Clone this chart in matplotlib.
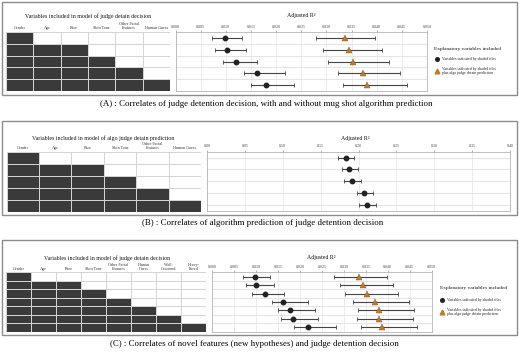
import numpy as np
import matplotlib
matplotlib.use("Agg")
import matplotlib.pyplot as plt
from matplotlib.patches import Rectangle
from matplotlib.colors import ListedColormap

plt.rcParams['font.family'] = ['Liberation Serif', 'DejaVu Serif']

# ---------------- data ----------------
# Panel A
a_cols = ["Gender", "Age", "Race", "Skin Tone", "Other Facial\nFeatures", "Human Guess"]
a_shaded = [1, 3, 4, 5, 6]
a_base = [0.0099, 0.0103, 0.0120, 0.0163, 0.0180]
a_base_lo = [0.0072, 0.0079, 0.0094, 0.0136, 0.0150]
a_base_hi = [0.0132, 0.0141, 0.0163, 0.0217, 0.0235]
a_algo = [0.0336, 0.0344, 0.0352, 0.0372, 0.0381]
a_algo_lo = [0.0279, 0.0294, 0.0303, 0.0323, 0.0333]
a_algo_hi = [0.0397, 0.0411, 0.0425, 0.0447, 0.0461]
a_ticks = [0.000, 0.005, 0.010, 0.015, 0.020, 0.025, 0.030, 0.035, 0.040, 0.045, 0.050]

# Panel B
b_cols = ["Gender", "Age", "Race", "Skin Tone", "Other Facial\nFeatures", "Human Guess"]
b_shaded = [1, 3, 4, 5, 6]
b_base = [0.1835, 0.1875, 0.1919, 0.2078, 0.2109]
b_base_lo = [0.1729, 0.1782, 0.1813, 0.1976, 0.2007]
b_base_hi = [0.1945, 0.1994, 0.2034, 0.2188, 0.2228]
b_ticks = [0.00, 0.05, 0.10, 0.15, 0.20, 0.25, 0.30, 0.35, 0.40]

# Panel C
c_cols = ["Gender", "Age", "Race", "Skin Tone", "Other Facial\nFeatures", "Human\nGuess",
          "Well-\nGroomed", "Heavy-\nFaced"]
c_shaded = [1, 3, 4, 5, 6, 7, 8]
c_base = [0.0097, 0.0100, 0.0119, 0.0162, 0.0178, 0.0183, 0.0219]
c_base_lo = [0.0069, 0.0077, 0.0091, 0.0135, 0.0150, 0.0156, 0.0186]
c_base_hi = [0.0131, 0.0141, 0.0163, 0.0217, 0.0235, 0.0240, 0.0281]
c_algo = [0.0334, 0.0343, 0.0352, 0.0371, 0.0381, 0.0380, 0.0387]
c_algo_lo = [0.0278, 0.0292, 0.0302, 0.0321, 0.0333, 0.0330, 0.0340]
c_algo_hi = [0.0397, 0.0412, 0.0424, 0.0448, 0.0460, 0.0458, 0.0467]
c_ticks = a_ticks

captions = ["(A) : Correlates of judge detention decision, with and without mug shot algorithm prediction",
            "(B) : Correlates of algorithm prediction of judge detention decision",
            "(C) : Correlates of novel features (new hypotheses) and judge detention decision"]
tile_titles = ["Variables included in model of judge detain decision",
               "Variables included in model of algo judge detain prediction",
               "Variables included in model of judge detain decision"]
legend_title = "Explanatory variables included"
legend_labels = ["Variables indicated by shaded tiles",
                 "Variables indicated by shaded tiles\nplus algo judge detain prediction"]

DARK = '#3a3a3a'
ORANGE = '#c07a2e'
W, H = 520, 353

fig = plt.figure(figsize=(W / 100, H / 100), dpi=100)
ov = fig.add_axes([0, 0, 1, 1])
ov.set_xlim(0, W)
ov.set_ylim(H, 0)
ov.axis('off')
ov.set_zorder(0)


def px_axes(x0, y0, x1, y1):
    ax = fig.add_axes([x0 / W, 1 - y1 / H, (x1 - x0) / W, (y1 - y0) / H])
    ax.set_zorder(2)
    return ax


def draw_tiles(ax, cols, shaded, title, tx, ty):
    n, m = len(shaded), len(cols)
    mat = np.array([[1 if j < s else 0 for j in range(m)] for s in shaded])
    ax.pcolormesh(np.arange(m + 1), np.arange(n + 1), mat,
                  cmap=ListedColormap(['white', DARK]), vmin=0, vmax=1,
                  edgecolors='#d4d4d4', linewidth=0.6)
    ax.set_xlim(0, m)
    ax.set_ylim(n, 0)
    ax.set_xticks(np.arange(m) + 0.5)
    ax.set_xticklabels(cols, fontsize=3.0, color='#333333', linespacing=1.0)
    ax.xaxis.tick_top()
    ax.tick_params(axis='x', length=0, pad=1.2)
    ax.set_yticks([])
    for s in ax.spines.values():
        s.set_visible(False)
    ov.text(tx, ty, title, ha='center', va='center', fontsize=4.2, color='#111111')


def draw_r2(ax, ticks, fmt, base, lo, hi, algo=None, alo=None, ahi=None,
            centers=False, tx=None, ty=None):
    n = len(base)
    y = np.arange(n) + 0.5
    ax.set_xlim(ticks[0], ticks[-1])
    ax.set_ylim(n, 0)
    ax.set_xticks(ticks)
    ax.set_xticklabels([fmt.format(t) for t in ticks], fontsize=2.9, color='#444444')
    ax.xaxis.tick_top()
    ax.tick_params(axis='x', length=1.5, width=0.4, pad=1.0, color='#777777')
    ax.set_yticks([])
    ax.grid(axis='x', color='#e4e4e4', lw=0.5)
    ax.set_axisbelow(True)
    hl = y if centers else np.arange(1, n)
    for h in hl:
        ax.axhline(h, color='#e4e4e4', lw=0.8, zorder=0)
    for s in ax.spines.values():
        s.set_color('#b5b5b5')
        s.set_linewidth(0.6)
    base = np.array(base)
    ax.errorbar(base, y, xerr=[base - np.array(lo), np.array(hi) - base], fmt='o',
                color='#222222', ecolor='#444444', elinewidth=0.8, capsize=1.2,
                capthick=0.6, markersize=3.2, zorder=3)
    if algo is not None:
        algo = np.array(algo)
        ax.errorbar(algo, y, xerr=[algo - np.array(alo), np.array(ahi) - algo], fmt='none',
                    ecolor='#444444', elinewidth=0.8, capsize=1.2, capthick=0.6, zorder=3)
        ax.plot(algo, y, linestyle='none', marker='^', color=ORANGE, markersize=3.8,
                markeredgecolor='#8a5520', markeredgewidth=0.3, zorder=4)
    ov.text(tx, ty, 'Adjusted R²', ha='center', va='center', fontsize=4.2, color='#111111')


def draw_legend(x, y, dy1, dy2):
    ov.text(x, y, legend_title, ha='left', va='center', fontsize=3.9, color='#111111')
    ov.plot([x + 2], [y + dy1], marker='o', color='#222222', markersize=2.6)
    ov.text(x + 7, y + dy1, legend_labels[0], ha='left', va='center', fontsize=2.8, color='#222222')
    ov.plot([x + 2], [y + dy2], marker='^', color=ORANGE, markersize=3.4)
    ov.text(x + 7, y + dy2, legend_labels[1], ha='left', va='center', fontsize=2.8,
            color='#222222', linespacing=1.1)


# panel boxes and captions
for (y0, y1) in [(2, 95), (120.5, 215), (240, 335)]:
    ov.add_patch(Rectangle((2, y0), 515, y1 - y0, fill=False, edgecolor='#8c8c8c', lw=1.0))
for cap, cx, cy in zip(captions, [266, 263, 254], [104, 223, 344]):
    ov.text(cx, cy, cap, ha='center', va='center', fontsize=6.4, color='#000000')

# Panel A
axA_t = px_axes(6, 32, 170, 91)
draw_tiles(axA_t, a_cols, a_shaded, tile_titles[0], 88, 16)
axA = px_axes(175.5, 32, 427, 91)
draw_r2(axA, a_ticks, '{:.3f}', a_base, a_base_lo, a_base_hi, a_algo, a_algo_lo, a_algo_hi,
        centers=False, tx=301, ty=15.7)
draw_legend(434.5, 49, 10, 22)

# Panel B
axB_t = px_axes(6.7, 151.7, 201, 211.7)
draw_tiles(axB_t, b_cols, b_shaded, tile_titles[1], 103, 138.3)
axB = px_axes(207, 151.7, 510, 210.5)
draw_r2(axB, b_ticks, '{:.2f}', b_base, b_base_lo, b_base_hi, centers=True, tx=355, ty=138.3)

# Panel C
axC_t = px_axes(6, 272.3, 206, 331.7)
draw_tiles(axC_t, c_cols, c_shaded, tile_titles[2], 107, 258.3)
axC = px_axes(212.3, 272.3, 431.7, 331.7)
draw_r2(axC, c_ticks, '{:.3f}', c_base, c_base_lo, c_base_hi, c_algo, c_algo_lo, c_algo_hi,
        centers=False, tx=321, ty=257.7)
draw_legend(440, 288.3, 12, 24)

fig.savefig('out.png', dpi=100)
